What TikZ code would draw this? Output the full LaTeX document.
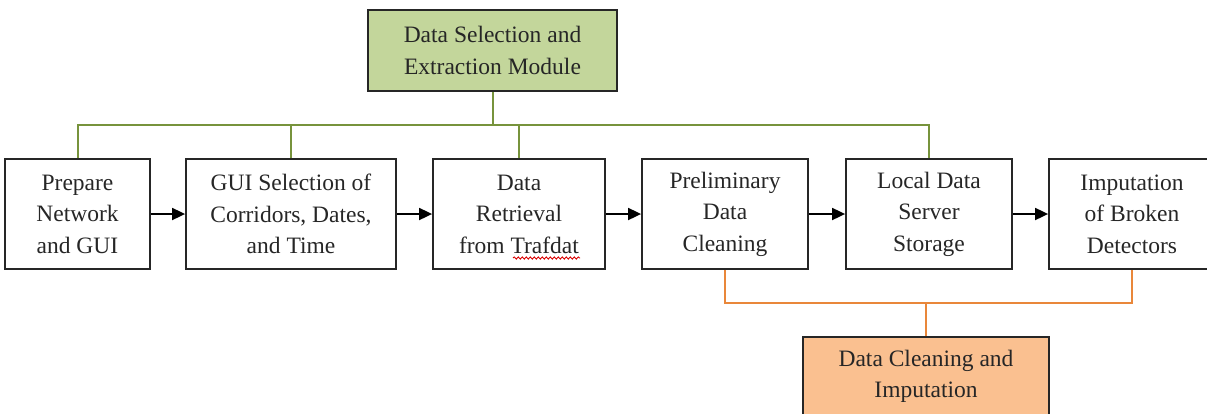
\documentclass[tikz,border=0pt]{standalone}
\usepackage{fontspec}
\setmainfont{Liberation Serif}
\usetikzlibrary{arrows.meta,decorations.pathmorphing}
\definecolor{gfill}{HTML}{C3D69B}
\definecolor{gline}{HTML}{77933C}
\definecolor{ofill}{HTML}{FAC090}
\definecolor{oline}{HTML}{E9873A}
\definecolor{bord}{HTML}{262626}
\tikzset{
  box/.style={draw=bord, line width=1.8pt, rectangle, inner sep=0pt, align=center,
    font=\fontsize{23.5}{31.5}\selectfont, text=black!85},
  garm/.style={draw=gline, line width=2pt},
  oarm/.style={draw=oline, line width=2pt},
  flow/.style={draw=black, line width=1.8pt, -{Triangle[length=13pt,width=12pt]}},
}
\begin{document}
\begin{tikzpicture}[x=1pt,y=-1pt]
\useasboundingbox (0,0) rectangle (1207,413);
% top module
\node[box, fill=gfill, minimum width=249pt, minimum height=81pt] (top) at (492.5,50.5)
  {Data Selection and\\Extraction Module};
% process boxes
\node[box, minimum width=145pt, minimum height=110pt] (b1) at (77.5,214) {Prepare\\Network\\and GUI};
\node[box, minimum width=210pt, minimum height=110pt] (b2) at (291,214) {GUI Selection of\\Corridors, Dates,\\and Time};
\node[box, minimum width=172pt, minimum height=110pt] (b3) at (519,214) {Data\\Retrieval\\from Trafdat};
\node[box, minimum width=166pt, minimum height=110pt] (b4) at (725,214) {Preliminary\\Data\\Cleaning};
\node[box, minimum width=166pt, minimum height=110pt] (b5) at (929,214) {Local Data\\Server\\Storage};
\node[box, minimum width=166pt, minimum height=110pt] (b6) at (1132,214) {Imputation\\of Broken\\Detectors};
% bottom module (cut off by the page edge)
\node[box, fill=ofill, minimum width=246pt, minimum height=79pt, anchor=north] (bot) at (926,336)
  {Data Cleaning and\\Imputation};
% spell-check squiggle under Trafdat
\coordinate (sq1) at (513,258);
\coordinate (sq2) at (580,258);
\draw[red!85!black, line width=0.9pt, decorate, decoration={snake, amplitude=1.1pt, segment length=4pt}] (sq1) -- (sq2);
% flow arrows
\draw[flow] (b1.east) -- (b2.west);
\draw[flow] (b2.east) -- (b3.west);
\draw[flow] (b3.east) -- (b4.west);
\draw[flow] (b4.east) -- (b5.west);
\draw[flow] (b5.east) -- (b6.west);
% green connectors
\coordinate (gy) at (0,125);
\draw[garm] (b1.north) -- (b1.north |- gy) -- (b5.north |- gy) -- (b5.north);
\draw[garm] (top.south) -- (top.south |- gy);
\draw[garm] (b2.north) -- (b2.north |- gy);
\draw[garm] (b3.north) -- (b3.north |- gy);
% orange connectors
\coordinate (oy) at (0,303);
\draw[oarm] (b4.south) -- (b4.south |- oy) -- (b6.south |- oy) -- (b6.south);
\draw[oarm] (bot.north) -- (bot.north |- oy);
\end{tikzpicture}
\end{document}
